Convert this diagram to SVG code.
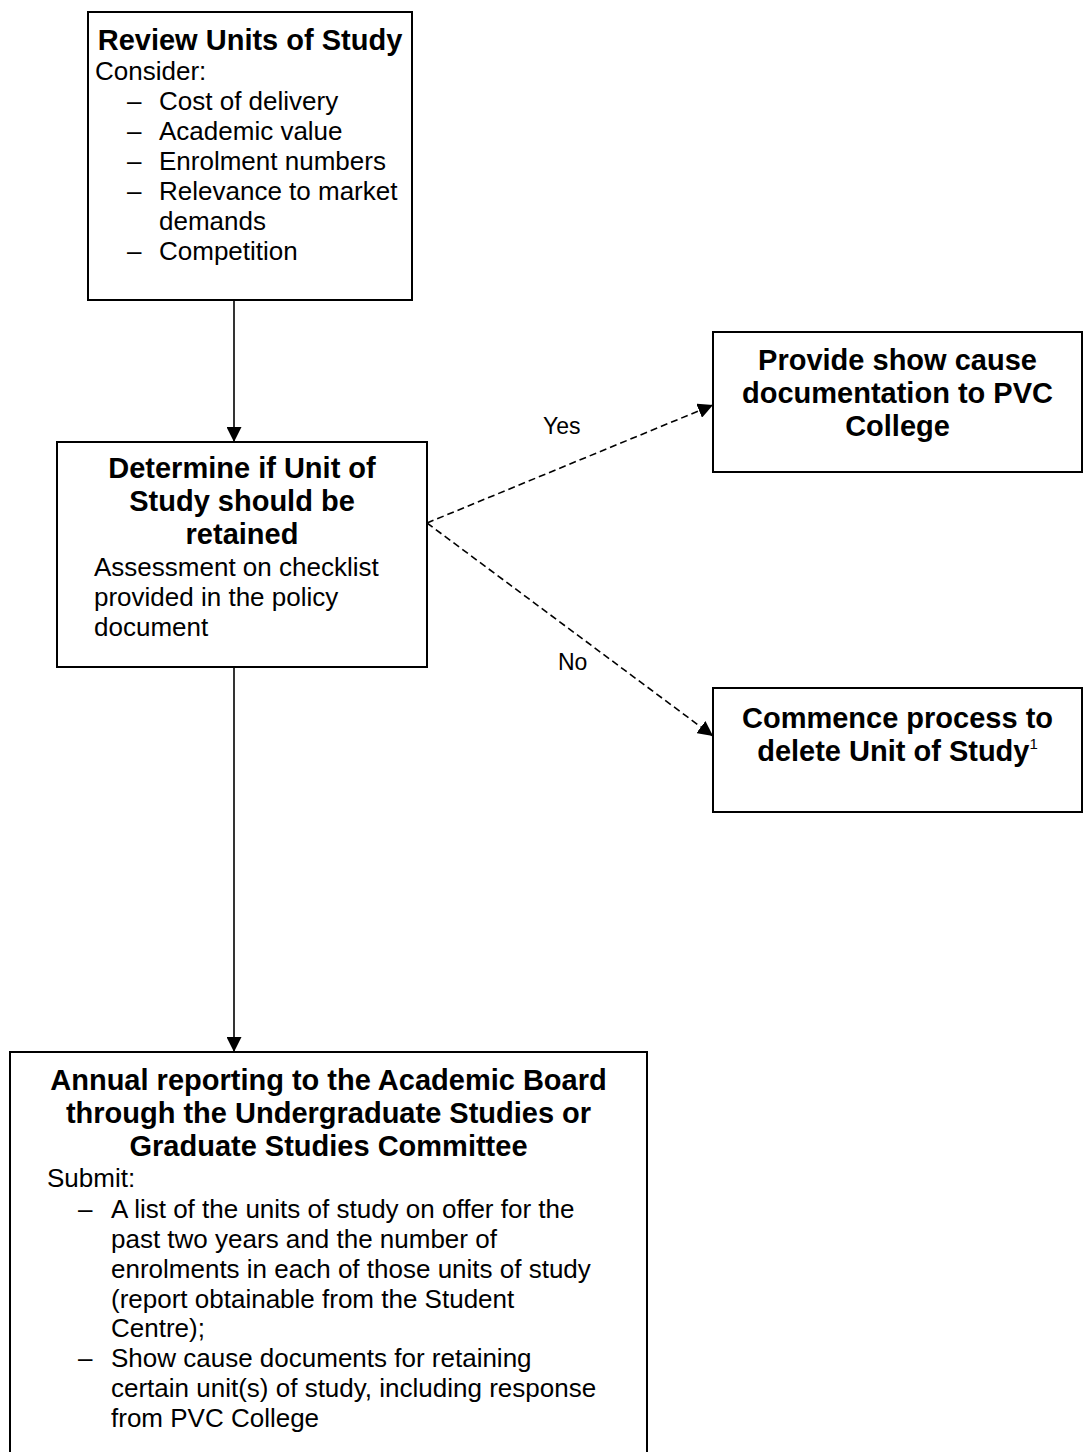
<svg xmlns="http://www.w3.org/2000/svg" width="1085" height="1452" viewBox="0 0 1085 1452">
<defs>
<style>
.box{fill:#fff;stroke:#000;stroke-width:2}
.t{font-family:"Liberation Sans",Arial,sans-serif;fill:#000}
.b{font-size:29px;font-weight:bold;text-anchor:middle}
.r{font-size:26px}
.lbl{font-family:"Liberation Sans",Arial,sans-serif;font-size:23px;fill:#000}
.solid{stroke:#000;stroke-width:1.6;fill:none}
.dash{stroke:#000;stroke-width:1.6;fill:none;stroke-dasharray:7 4}
</style>
<marker id="ah" viewBox="0 0 10 10" refX="10" refY="5" markerWidth="15" markerHeight="15" markerUnits="userSpaceOnUse" orient="auto">
<path d="M0,0 L10,5 L0,10 Z" fill="#000"/>
</marker>
</defs>
<rect width="1085" height="1452" fill="#fff"/>

<g id="connectors">
<line class="solid" x1="234" y1="300" x2="234" y2="442" marker-end="url(#ah)"/>
<line class="solid" x1="234" y1="667" x2="234" y2="1052" marker-end="url(#ah)"/>
<line class="dash" x1="427" y1="523" x2="713" y2="405" marker-end="url(#ah)"/>
<line class="dash" x1="427" y1="523" x2="713" y2="736" marker-end="url(#ah)"/>
<text class="lbl" x="543" y="434">Yes</text>
<text class="lbl" x="558" y="670">No</text>
</g>

<g id="review">
<rect class="box" x="88" y="12" width="324" height="288"/>
<text class="t b" x="250" y="50">Review Units of Study</text>
<text class="t r" x="95" y="80">Consider:</text>
<text class="t r" x="127" y="110">–</text><text class="t r" x="159" y="110">Cost of delivery</text>
<text class="t r" x="127" y="140">–</text><text class="t r" x="159" y="140">Academic value</text>
<text class="t r" x="127" y="170">–</text><text class="t r" x="159" y="170">Enrolment numbers</text>
<text class="t r" x="127" y="200">–</text><text class="t r" x="159" y="200">Relevance to market</text>
<text class="t r" x="159" y="230">demands</text>
<text class="t r" x="127" y="260">–</text><text class="t r" x="159" y="260">Competition</text>
</g>

<g id="determine">
<rect class="box" x="57" y="442" width="370" height="225"/>
<text class="t b" x="242" y="478">Determine if Unit of</text>
<text class="t b" x="242" y="511">Study should be</text>
<text class="t b" x="242" y="544">retained</text>
<text class="t r" x="94" y="576">Assessment on checklist</text>
<text class="t r" x="94" y="606">provided in the policy</text>
<text class="t r" x="94" y="636">document</text>
</g>

<g id="showcause">
<rect class="box" x="713" y="332" width="369" height="140"/>
<text class="t b" x="897.5" y="370">Provide show cause</text>
<text class="t b" x="897.5" y="403">documentation to PVC</text>
<text class="t b" x="897.5" y="436">College</text>
</g>

<g id="delete">
<rect class="box" x="713" y="688" width="369" height="124"/>
<text class="t b" x="897.5" y="728">Commence process to</text>
<text class="t b" x="897.5" y="761">delete Unit of Study<tspan font-size="15" font-weight="normal" dy="-12">1</tspan></text>
</g>

<g id="annual">
<rect class="box" x="10" y="1052" width="637" height="430"/>
<text class="t b" x="328.5" y="1090">Annual reporting to the Academic Board</text>
<text class="t b" x="328.5" y="1123">through the Undergraduate Studies or</text>
<text class="t b" x="328.5" y="1156">Graduate Studies Committee</text>
<text class="t r" x="47" y="1187">Submit:</text>
<text class="t r" x="78" y="1218">–</text><text class="t r" x="111" y="1218">A list of the units of study on offer for the</text>
<text class="t r" x="111" y="1248">past two years and the number of</text>
<text class="t r" x="111" y="1278">enrolments in each of those units of study</text>
<text class="t r" x="111" y="1308">(report obtainable from the Student</text>
<text class="t r" x="111" y="1337">Centre);</text>
<text class="t r" x="78" y="1367">–</text><text class="t r" x="111" y="1367">Show cause documents for retaining</text>
<text class="t r" x="111" y="1397">certain unit(s) of study, including response</text>
<text class="t r" x="111" y="1427">from PVC College</text>
</g>
</svg>
